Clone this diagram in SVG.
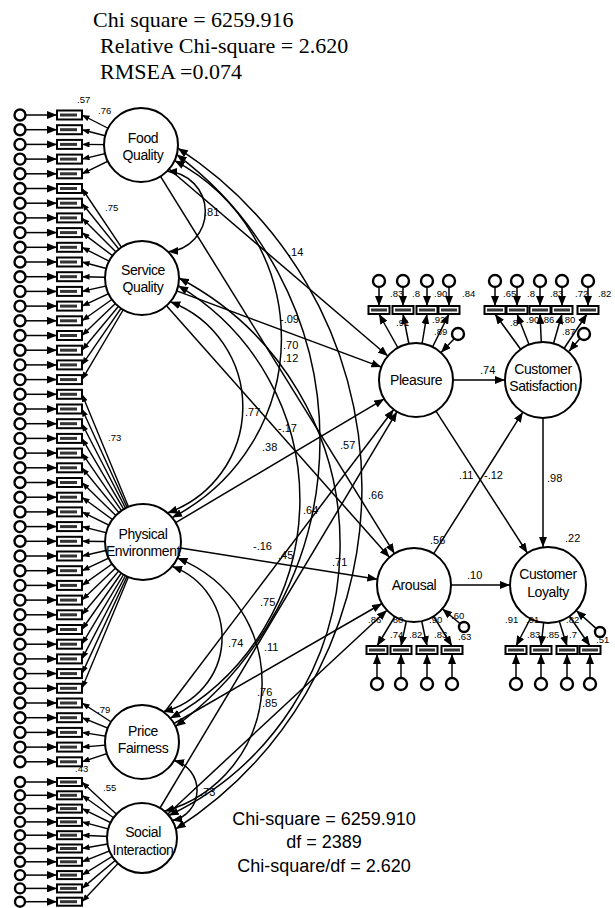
<svg xmlns="http://www.w3.org/2000/svg" width="615" height="908" viewBox="0 0 615 908">
<style>
.s{stroke:#000;stroke-width:1.5;fill:none}
.si{stroke:#000;stroke-width:1.4;fill:none}
.lat{fill:#fff;stroke:#000;stroke-width:2}
.box{fill:#fff;stroke:#000;stroke-width:2}
.bx{fill:#333}
.err{fill:#fff;stroke:#000;stroke-width:2.4}
.nt{font-family:"Liberation Sans",Arial,sans-serif;font-size:14px;text-anchor:middle;letter-spacing:-0.4px}
.lb{font-family:"Liberation Sans",Arial,sans-serif;font-size:11px}
.lbs{font-family:"Liberation Sans",Arial,sans-serif;font-size:9.5px}
.top{font-family:"Liberation Serif","Times New Roman",serif;font-size:22px}
.fit{font-family:"Liberation Sans",Arial,sans-serif;font-size:18px;text-anchor:middle}
</style>
<defs>
<marker id="m" viewBox="0 0 10 8" refX="10" refY="4" markerWidth="10" markerHeight="8" markerUnits="userSpaceOnUse" orient="auto-start-reverse"><path d="M0,0L10,4L0,8z"/></marker>
<marker id="mi" viewBox="0 0 10 8" refX="10" refY="4" markerWidth="8" markerHeight="6" markerUnits="userSpaceOnUse" orient="auto"><path d="M0,0L10,4L0,8z"/></marker>
<g id="ind"><line class="s" x1="25.5" y1="0" x2="57" y2="0" marker-end="url(#m)"/><circle class="err" cx="20" cy="0" r="5.5"/><rect class="box" x="57" y="-4.5" width="25" height="9"/><rect class="bx" x="60" y="-1.5" width="17" height="3"/></g>
<g id="indS"><line class="s" x1="25.5" y1="0" x2="57" y2="0" marker-end="url(#m)"/><circle class="err" cx="20" cy="0" r="5"/><rect class="box" x="57" y="-4" width="25" height="8"/><rect class="bx" x="60" y="-1.5" width="17" height="3"/></g>
<g id="eu"><line class="s" x1="0" y1="-23" x2="0" y2="-4" marker-end="url(#m)"/><circle class="err" cx="0" cy="-29" r="6"/><rect class="box" x="-10.5" y="-4" width="21" height="8"/><rect class="bx" x="-8" y="-1.5" width="16" height="3"/></g>
<g id="ed"><line class="s" x1="0" y1="28" x2="0" y2="4" marker-end="url(#m)"/><circle class="err" cx="0" cy="34" r="6"/><rect class="box" x="-10.5" y="-4" width="21" height="8"/><rect class="bx" x="-8" y="-1.5" width="16" height="3"/></g>
</defs>
<rect x="0" y="0" width="615" height="908" fill="#fff"/>

<g id="fit-header">
<text class="top" x="93" y="27">Chi square = 6259.916</text>
<text class="top" x="100" y="53">Relative Chi-square = 2.620</text>
<text class="top" x="100" y="79">RMSEA =0.074</text>
</g>

<g id="connectors">
<path class="s" d="M167.2,171.2 A40.4,40.4 0 0 1 168.2,251.8" marker-start="url(#m)" marker-end="url(#m)"/>
<path class="s" d="M174.5,160.6 A201.4,201.4 0 0 1 172.1,517.6" marker-start="url(#m)" marker-end="url(#m)"/>
<path class="s" d="M176.7,154.6 A356,356 0 0 1 175.5,726.4" marker-start="url(#m)" marker-end="url(#m)"/>
<path class="s" d="M177.9,148.2 A405.5,405.5 0 0 1 175.8,828.9" marker-start="url(#m)" marker-end="url(#m)"/>
<path class="s" d="M170.3,301.8 A112.3,112.3 0 0 1 167.4,512.9" marker-start="url(#m)" marker-end="url(#m)"/>
<path class="s" d="M178.2,285.7 A249,249 0 0 1 170.3,718.2" marker-start="url(#m)" marker-end="url(#m)"/>
<path class="s" d="M179,278 A300.5,300.5 0 0 1 168.8,815.5" marker-start="url(#m)" marker-end="url(#m)"/>
<path class="s" d="M172.1,566.4 A75.9,75.9 0 0 1 163.2,711.7" marker-start="url(#m)" marker-end="url(#m)"/>
<path class="s" d="M177.4,558.1 A133.7,133.7 0 0 1 164.5,811.2" marker-start="url(#m)" marker-end="url(#m)"/>
<path class="s" d="M174,760.5 A30.8,30.8 0 0 1 172.3,820.5" marker-start="url(#m)" marker-end="url(#m)"/>
<line class="s" x1="169.1" y1="169" x2="387.9" y2="356" marker-end="url(#m)"/>
<line class="s" x1="160.5" y1="176.4" x2="394.5" y2="553.6" marker-end="url(#m)"/>
<line class="s" x1="176.7" y1="290.9" x2="381.3" y2="367.1" marker-end="url(#m)"/>
<line class="s" x1="166.5" y1="305.7" x2="389.5" y2="557.3" marker-end="url(#m)"/>
<line class="s" x1="175.7" y1="522.6" x2="384.2" y2="398.9" marker-end="url(#m)"/>
<line class="s" x1="180.5" y1="548" x2="377.4" y2="579.2" marker-end="url(#m)"/>
<line class="s" x1="164.3" y1="712.5" x2="393.7" y2="409.5" marker-end="url(#m)"/>
<line class="s" x1="174" y1="723.5" x2="382" y2="603.5" marker-end="url(#m)"/>
<line class="s" x1="160" y1="808" x2="397" y2="411.7" marker-end="url(#m)"/>
<line class="s" x1="167.6" y1="814.2" x2="386.9" y2="610.2" marker-end="url(#m)"/>
<line class="s" x1="453" y1="380" x2="505" y2="380" marker-end="url(#m)"/>
<line class="s" x1="543" y1="418" x2="543" y2="547" marker-end="url(#m)"/>
<line class="s" x1="451" y1="585" x2="510" y2="585" marker-end="url(#m)"/>
<line class="s" x1="436" y1="411.1" x2="527.4" y2="553" marker-end="url(#m)"/>
<line class="s" x1="433.7" y1="553.7" x2="522.8" y2="412.2" marker-end="url(#m)"/>
<line class="s" x1="454" y1="339" x2="441" y2="352.5" marker-end="url(#m)"/>
<line class="s" x1="580" y1="338.5" x2="569" y2="351.3" marker-end="url(#m)"/>
<line class="s" x1="460.2" y1="623.8" x2="442.3" y2="608.8" marker-end="url(#m)"/>
<line class="s" x1="596.3" y1="628.6" x2="576.2" y2="610.5" marker-end="url(#m)"/>
<line class="si" x1="141" y1="145" x2="82" y2="115" marker-end="url(#mi)"/>
<line class="si" x1="141" y1="145" x2="82" y2="129.7" marker-end="url(#mi)"/>
<line class="si" x1="141" y1="145" x2="82" y2="144.4" marker-end="url(#mi)"/>
<line class="si" x1="141" y1="145" x2="82" y2="159.1" marker-end="url(#mi)"/>
<line class="si" x1="141" y1="145" x2="82" y2="173.8" marker-end="url(#mi)"/>
<line class="si" x1="142" y1="278" x2="82" y2="188.5" marker-end="url(#mi)"/>
<line class="si" x1="142" y1="278" x2="82" y2="203.2" marker-end="url(#mi)"/>
<line class="si" x1="142" y1="278" x2="82" y2="217.9" marker-end="url(#mi)"/>
<line class="si" x1="142" y1="278" x2="82" y2="232.6" marker-end="url(#mi)"/>
<line class="si" x1="142" y1="278" x2="82" y2="247.3" marker-end="url(#mi)"/>
<line class="si" x1="142" y1="278" x2="82" y2="262" marker-end="url(#mi)"/>
<line class="si" x1="142" y1="278" x2="82" y2="276.7" marker-end="url(#mi)"/>
<line class="si" x1="142" y1="278" x2="82" y2="291.4" marker-end="url(#mi)"/>
<line class="si" x1="142" y1="278" x2="82" y2="306.1" marker-end="url(#mi)"/>
<line class="si" x1="142" y1="278" x2="82" y2="320.8" marker-end="url(#mi)"/>
<line class="si" x1="142" y1="278" x2="82" y2="335.5" marker-end="url(#mi)"/>
<line class="si" x1="142" y1="278" x2="82" y2="350.2" marker-end="url(#mi)"/>
<line class="si" x1="142" y1="278" x2="82" y2="364.9" marker-end="url(#mi)"/>
<line class="si" x1="142" y1="278" x2="82" y2="379.6" marker-end="url(#mi)"/>
<line class="si" x1="143" y1="542" x2="82" y2="394.3" marker-end="url(#mi)"/>
<line class="si" x1="143" y1="542" x2="82" y2="409" marker-end="url(#mi)"/>
<line class="si" x1="143" y1="542" x2="82" y2="423.7" marker-end="url(#mi)"/>
<line class="si" x1="143" y1="542" x2="82" y2="438.4" marker-end="url(#mi)"/>
<line class="si" x1="143" y1="542" x2="82" y2="453.1" marker-end="url(#mi)"/>
<line class="si" x1="143" y1="542" x2="82" y2="467.8" marker-end="url(#mi)"/>
<line class="si" x1="143" y1="542" x2="82" y2="482.5" marker-end="url(#mi)"/>
<line class="si" x1="143" y1="542" x2="82" y2="497.2" marker-end="url(#mi)"/>
<line class="si" x1="143" y1="542" x2="82" y2="511.9" marker-end="url(#mi)"/>
<line class="si" x1="143" y1="542" x2="82" y2="526.6" marker-end="url(#mi)"/>
<line class="si" x1="143" y1="542" x2="82" y2="541.3" marker-end="url(#mi)"/>
<line class="si" x1="143" y1="542" x2="82" y2="556" marker-end="url(#mi)"/>
<line class="si" x1="143" y1="542" x2="82" y2="570.7" marker-end="url(#mi)"/>
<line class="si" x1="143" y1="542" x2="82" y2="585.4" marker-end="url(#mi)"/>
<line class="si" x1="143" y1="542" x2="82" y2="600.1" marker-end="url(#mi)"/>
<line class="si" x1="143" y1="542" x2="82" y2="614.8" marker-end="url(#mi)"/>
<line class="si" x1="143" y1="542" x2="82" y2="629.5" marker-end="url(#mi)"/>
<line class="si" x1="143" y1="542" x2="82" y2="644.2" marker-end="url(#mi)"/>
<line class="si" x1="143" y1="542" x2="82" y2="658.9" marker-end="url(#mi)"/>
<line class="si" x1="143" y1="542" x2="82" y2="673.6" marker-end="url(#mi)"/>
<line class="si" x1="143" y1="542" x2="82" y2="688.3" marker-end="url(#mi)"/>
<line class="si" x1="142" y1="742" x2="82" y2="703" marker-end="url(#mi)"/>
<line class="si" x1="142" y1="742" x2="82" y2="717.7" marker-end="url(#mi)"/>
<line class="si" x1="142" y1="742" x2="82" y2="732.4" marker-end="url(#mi)"/>
<line class="si" x1="142" y1="742" x2="82" y2="747.1" marker-end="url(#mi)"/>
<line class="si" x1="142" y1="742" x2="82" y2="761.8" marker-end="url(#mi)"/>
<line class="si" x1="142" y1="838" x2="82" y2="782" marker-end="url(#mi)"/>
<line class="si" x1="142" y1="838" x2="82" y2="795.3" marker-end="url(#mi)"/>
<line class="si" x1="142" y1="838" x2="82" y2="808.6" marker-end="url(#mi)"/>
<line class="si" x1="142" y1="838" x2="82" y2="821.9" marker-end="url(#mi)"/>
<line class="si" x1="142" y1="838" x2="82" y2="835.2" marker-end="url(#mi)"/>
<line class="si" x1="142" y1="838" x2="82" y2="848.5" marker-end="url(#mi)"/>
<line class="si" x1="142" y1="838" x2="82" y2="861.8" marker-end="url(#mi)"/>
<line class="si" x1="142" y1="838" x2="82" y2="875.1" marker-end="url(#mi)"/>
<line class="si" x1="142" y1="838" x2="82" y2="888.4" marker-end="url(#mi)"/>
<line class="si" x1="142" y1="838" x2="82" y2="901.7" marker-end="url(#mi)"/>
<line class="s" x1="416" y1="380" x2="379" y2="314" marker-end="url(#m)"/>
<line class="s" x1="416" y1="380" x2="403" y2="314" marker-end="url(#m)"/>
<line class="s" x1="416" y1="380" x2="427" y2="314" marker-end="url(#m)"/>
<line class="s" x1="416" y1="380" x2="449" y2="314" marker-end="url(#m)"/>
<line class="s" x1="543" y1="380" x2="495" y2="314" marker-end="url(#m)"/>
<line class="s" x1="543" y1="380" x2="517" y2="314" marker-end="url(#m)"/>
<line class="s" x1="543" y1="380" x2="540" y2="314" marker-end="url(#m)"/>
<line class="s" x1="543" y1="380" x2="562" y2="314" marker-end="url(#m)"/>
<line class="s" x1="543" y1="380" x2="587" y2="314" marker-end="url(#m)"/>
<line class="s" x1="414" y1="585" x2="377" y2="646" marker-end="url(#m)"/>
<line class="s" x1="414" y1="585" x2="401" y2="646" marker-end="url(#m)"/>
<line class="s" x1="414" y1="585" x2="427" y2="646" marker-end="url(#m)"/>
<line class="s" x1="414" y1="585" x2="452" y2="646" marker-end="url(#m)"/>
<line class="s" x1="548" y1="585" x2="516" y2="646" marker-end="url(#m)"/>
<line class="s" x1="548" y1="585" x2="541" y2="646" marker-end="url(#m)"/>
<line class="s" x1="548" y1="585" x2="567" y2="646" marker-end="url(#m)"/>
<line class="s" x1="548" y1="585" x2="590" y2="646" marker-end="url(#m)"/>
</g>

<g id="indicators-left">
<use href="#ind" y="115"/><use href="#ind" y="129.7"/><use href="#ind" y="144.4"/><use href="#ind" y="159.1"/><use href="#ind" y="173.8"/>
<use href="#ind" y="188.5"/><use href="#ind" y="203.2"/><use href="#ind" y="217.9"/><use href="#ind" y="232.6"/><use href="#ind" y="247.3"/>
<use href="#ind" y="262"/><use href="#ind" y="276.7"/><use href="#ind" y="291.4"/><use href="#ind" y="306.1"/><use href="#ind" y="320.8"/>
<use href="#ind" y="335.5"/><use href="#ind" y="350.2"/><use href="#ind" y="364.9"/><use href="#ind" y="379.6"/><use href="#ind" y="394.3"/>
<use href="#ind" y="409"/><use href="#ind" y="423.7"/><use href="#ind" y="438.4"/><use href="#ind" y="453.1"/><use href="#ind" y="467.8"/>
<use href="#ind" y="482.5"/><use href="#ind" y="497.2"/><use href="#ind" y="511.9"/><use href="#ind" y="526.6"/><use href="#ind" y="541.3"/>
<use href="#ind" y="556"/><use href="#ind" y="570.7"/><use href="#ind" y="585.4"/><use href="#ind" y="600.1"/><use href="#ind" y="614.8"/>
<use href="#ind" y="629.5"/><use href="#ind" y="644.2"/><use href="#ind" y="658.9"/><use href="#ind" y="673.6"/><use href="#ind" y="688.3"/>
<use href="#ind" y="703"/><use href="#ind" y="717.7"/><use href="#ind" y="732.4"/><use href="#ind" y="747.1"/><use href="#ind" y="761.8"/>
<use href="#indS" y="782"/><use href="#indS" y="795.3"/><use href="#indS" y="808.6"/><use href="#indS" y="821.9"/><use href="#indS" y="835.2"/>
<use href="#indS" y="848.5"/><use href="#indS" y="861.8"/><use href="#indS" y="875.1"/><use href="#indS" y="888.4"/><use href="#indS" y="901.7"/>
</g>

<g id="indicators-right">
<use href="#eu" x="379" y="310"/><use href="#eu" x="403" y="310"/><use href="#eu" x="427" y="310"/><use href="#eu" x="449" y="310"/>
<use href="#eu" x="495" y="310"/><use href="#eu" x="517" y="310"/><use href="#eu" x="540" y="310"/><use href="#eu" x="562" y="310"/><use href="#eu" x="588" y="310"/>
<use href="#ed" x="377" y="650"/><use href="#ed" x="401" y="650"/><use href="#ed" x="427" y="650"/><use href="#ed" x="452" y="650"/>
<use href="#ed" x="516" y="650"/><use href="#ed" x="541" y="650"/><use href="#ed" x="567" y="650"/><use href="#ed" x="590" y="650"/>
<circle class="err" cx="458" cy="334" r="6"/>
<circle class="err" cx="584" cy="334" r="6"/>
<circle class="err" cx="464" cy="627" r="5"/>
<circle class="err" cx="600" cy="632" r="5"/>
</g>

<g id="food_quality"><circle class="lat" cx="141" cy="145" r="37"/><text class="nt" x="143" y="143">Food</text><text class="nt" x="143" y="160">Quality</text></g>
<g id="service_quality"><circle class="lat" cx="142" cy="278" r="37"/><text class="nt" x="143" y="275">Service</text><text class="nt" x="143" y="292">Quality</text></g>
<g id="physical_environment"><circle class="lat" cx="143" cy="542" r="38"/><text class="nt" x="143" y="539">Physical</text><text class="nt" x="143" y="556">Environment</text></g>
<g id="price_fairness"><circle class="lat" cx="142" cy="742" r="37"/><text class="nt" x="143" y="736">Price</text><text class="nt" x="143" y="753">Fairness</text></g>
<g id="social_interaction"><circle class="lat" cx="142" cy="838" r="35"/><text class="nt" x="143" y="837">Social</text><text class="nt" x="143" y="855">Interaction</text></g>
<g id="pleasure"><circle class="lat" cx="416" cy="380" r="37"/><text class="nt" x="416" y="385">Pleasure</text></g>
<g id="customer_satisfaction"><circle class="lat" cx="543" cy="380" r="38"/><text class="nt" x="543" y="374">Customer</text><text class="nt" x="543" y="391">Satisfaction</text></g>
<g id="arousal"><circle class="lat" cx="414" cy="585" r="37"/><text class="nt" x="414" y="590">Arousal</text></g>
<g id="customer_loyalty"><circle class="lat" cx="548" cy="585" r="38"/><text class="nt" x="548" y="579">Customer</text><text class="nt" x="548" y="597">Loyalty</text></g>

<g id="labels">
<text class="lb" x="204" y="216">.81</text>
<text class="lb" x="288" y="256">.14</text>
<text class="lb" x="280" y="323">-.09</text>
<text class="lb" x="283" y="349">.70</text>
<text class="lb" x="283" y="362">.12</text>
<text class="lb" x="245" y="416">.77</text>
<text class="lb" x="278" y="432">-.17</text>
<text class="lb" x="262" y="451">.38</text>
<text class="lb" x="340" y="449">.57</text>
<text class="lb" x="368" y="499">.66</text>
<text class="lb" x="303" y="514">.64</text>
<text class="lb" x="253" y="550">-.16</text>
<text class="lb" x="278" y="559">.45</text>
<text class="lb" x="332" y="566">.71</text>
<text class="lb" x="260" y="606">.75</text>
<text class="lb" x="228" y="647">.74</text>
<text class="lb" x="264" y="651">.11</text>
<text class="lb" x="257" y="696">.76</text>
<text class="lb" x="262" y="707">.85</text>
<text class="lb" x="200" y="796">.73</text>
<text class="lb" x="480" y="374">.74</text>
<text class="lb" x="547" y="482">.98</text>
<text class="lb" x="459" y="479">.11</text>
<text class="lb" x="484" y="479">-.12</text>
<text class="lb" x="430" y="544">.56</text>
<text class="lb" x="565" y="542">.22</text>
<text class="lb" x="467" y="579">.10</text>
<text class="lbs" x="390" y="297">.83</text>
<text class="lbs" x="412" y="297">.8</text>
<text class="lbs" x="434" y="297">.90</text>
<text class="lbs" x="462" y="297">.84</text>
<text class="lbs" x="396" y="326">.91</text>
<text class="lbs" x="432" y="323">.92</text>
<text class="lbs" x="434" y="335">.89</text>
<text class="lbs" x="503" y="297">.65</text>
<text class="lbs" x="527" y="297">.8</text>
<text class="lbs" x="550" y="297">.83</text>
<text class="lbs" x="575" y="297">.72</text>
<text class="lbs" x="598" y="297">.82</text>
<text class="lbs" x="510" y="326">.8</text>
<text class="lbs" x="526" y="323">.90</text>
<text class="lbs" x="541" y="323">.86</text>
<text class="lbs" x="562" y="323">.80</text>
<text class="lbs" x="562" y="335">.87</text>
<text class="lbs" x="368" y="623">.86</text>
<text class="lbs" x="390" y="623">.80</text>
<text class="lbs" x="390" y="638">.74</text>
<text class="lbs" x="409" y="638">.82</text>
<text class="lbs" x="429" y="623">.90</text>
<text class="lbs" x="434" y="638">.83</text>
<text class="lbs" x="451" y="619">.60</text>
<text class="lbs" x="458" y="640">.63</text>
<text class="lbs" x="505" y="623">.91</text>
<text class="lbs" x="526" y="623">.91</text>
<text class="lbs" x="527" y="638">.83</text>
<text class="lbs" x="546" y="638">.85</text>
<text class="lbs" x="566" y="623">.82</text>
<text class="lbs" x="569" y="638">.7</text>
<text class="lbs" x="596" y="643">.51</text>
<text class="lbs" x="77" y="103">.57</text>
<text class="lbs" x="98" y="114">.76</text>
<text class="lbs" x="105" y="211">.75</text>
<text class="lbs" x="108" y="441">.73</text>
<text class="lbs" x="97" y="713">.79</text>
<text class="lbs" x="75" y="772">.43</text>
<text class="lbs" x="103" y="791">.55</text>
</g>

<g id="fit-footer">
<text class="fit" x="324" y="825">Chi-square = 6259.910</text>
<text class="fit" x="324" y="848">df = 2389</text>
<text class="fit" x="324" y="872">Chi-square/df = 2.620</text>
</g>
</svg>
